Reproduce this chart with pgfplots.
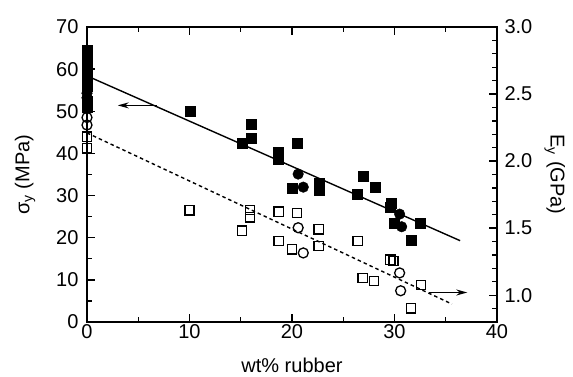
\documentclass[border=0pt]{standalone}
\usepackage{pgfplots}
\pgfplotsset{compat=1.18}
\usepackage{fontspec}
\setmainfont{Liberation Sans}
\usetikzlibrary{arrows.meta}
\begin{document}
\begin{tikzpicture}
\pgfplotsset{
  common/.style={
    scale only axis, width=410pt, height=295pt,
    xmin=0, xmax=40, clip=false,
    font=\fontsize{20}{23}\selectfont,
    /pgf/number format/assume math mode=true,
    tick align=inside,
    major tick length=8pt, minor tick length=5pt,
    axis line style={line width=1.3pt},
    every tick/.style={line width=1.3pt, black},
  }
}
\begin{axis}[common, name=ax,
  ymin=0, ymax=70,
  xtick={0,10,20,30,40}, minor xtick={5,15,25,35},
  ytick={0,10,...,70}, minor ytick={5,15,...,65},
  xtick pos=both, xticklabel pos=bottom,
  ytick pos=left,
  yticklabel style={xshift=-5pt},
  xticklabel style={yshift=1pt},
  every axis x label/.style={at={(axis description cs:0.5,-0.148)}, anchor=center, inner sep=1pt},
  every axis y label/.style={at={(axis description cs:-0.151,0.5)}, anchor=center, rotate=90},
  xlabel={wt\% rubber},
  ylabel={σ\textsubscript{y} (MPa)},
]
\addplot[black, line width=1.4pt] coordinates {(0,58.4) (36.4,19.3)};
\addplot[only marks, mark=square*, mark size=5pt, black] coordinates {
(0,64.5) (0,63.3) (0,61.8) (0,59.8) (0,58.5) (0,57.2) (0,56.0) (0,52.3) (0,51.0)
(10.1,50.1) (15.1,42.4) (16.0,47.0) (16.0,43.6) (18.7,40.2) (18.7,38.6)
(20.5,42.4) (20.0,31.7) (22.7,33.0) (22.7,31.3) (26.4,30.4) (26.9,34.6)
(28.1,32.0) (29.7,28.2) (29.6,27.3) (30.0,23.4) (32.5,23.5) (31.6,19.3)};
\addplot[only marks, mark=*, mark size=5.3pt, black] coordinates {
(0,54.3) (0,53.2) (20.6,35.1) (21.1,32.0) (30.5,25.6) (30.7,22.6)};
\draw[line width=1.3pt, -{Stealth[length=11pt,width=6pt]}] (axis cs:6.8,51.4) -- (axis cs:3.0,51.4);
\end{axis}
\begin{axis}[common,
  ymin=0.8, ymax=3.0,
  axis x line=none, axis y line*=right,
  ytick={1.0,1.5,...,3.0}, minor ytick={0.9,1.0,...,3.0},
  yticklabel style={xshift=4pt, /pgf/number format/.cd, fixed, fixed zerofill, precision=1},
  every axis y label/.style={at={(axis description cs:1.141,0.5)}, anchor=center, rotate=-90},
  ylabel={E\textsubscript{y} (GPa)},
]
\addplot[black, line width=1.4pt, dash pattern=on 3.5pt off 3pt] coordinates {(0,2.21) (35.6,0.934)};
\addplot[only marks, mark=square, mark size=4.6pt, black, line width=1.3pt, mark options={fill=white}] coordinates {
(0,2.182) (0,2.095) (10.0,1.633) (15.1,1.481) (15.9,1.635) (15.9,1.580)
(18.7,1.623) (18.7,1.405) (20.0,1.342) (20.5,1.613) (22.6,1.491) (22.6,1.367)
(26.4,1.405) (26.9,1.127) (28.0,1.105) (29.6,1.265) (29.9,1.254) (32.6,1.076) (31.6,0.902)};
\addplot[only marks, mark=o, mark size=5pt, black, line width=1.3pt, mark options={fill=white}] coordinates {
(0,2.325) (0,2.269) (20.6,1.503) (21.1,1.315) (30.5,1.166) (30.6,1.033)};
\draw[line width=1.3pt, -{Stealth[length=11pt,width=6pt]}] (axis cs:33.4,1.02) -- (axis cs:37.1,1.02);
\end{axis}
\pgfresetboundingbox
\path ([xshift=-87pt,yshift=-55pt]ax.south west) rectangle ++(573pt,377pt);
\end{tikzpicture}
\end{document}
